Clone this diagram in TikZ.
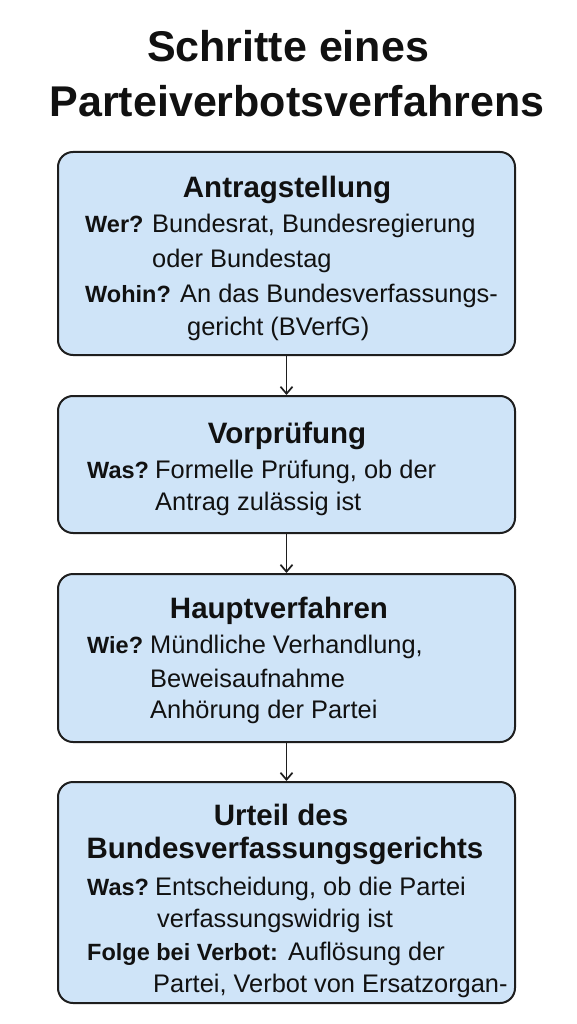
\documentclass[tikz,border=0pt]{standalone}
\usepackage{fontspec}
\setmainfont{Liberation Sans}
\usetikzlibrary{arrows.meta}
\definecolor{boxfill}{RGB}{207,228,248}
\definecolor{boxline}{RGB}{30,30,30}
\definecolor{txt}{RGB}{17,17,17}
\tikzset{
  stepbox/.style={draw=boxline, line width=2pt, fill=boxfill, rounded corners=15pt, inner sep=0pt},
  arr/.style={draw=boxline, line width=1.7pt, -{Straight Barb[length=7pt,width=12pt,line width=1.7pt]}},
  ttl/.style={anchor=base, inner sep=0pt, text=txt, font=\fontsize{43}{50}\selectfont\bfseries},
  hd/.style={anchor=base, inner sep=0pt, text=txt, font=\fontsize{29.5}{34}\selectfont\bfseries},
  lbl/.style={anchor=base west, inner sep=0pt, text=txt, font=\fontsize{23.5}{28}\selectfont\bfseries},
  bd/.style={anchor=base west, inner sep=0pt, text=txt, font=\fontsize{25.4}{30}\selectfont},
}
\begin{document}
\begin{tikzpicture}[x=1pt,y=-1pt]
\useasboundingbox (0,0) rectangle (576,1024);
\fill[white] (0,0) rectangle (576,1024);

% title
\node[ttl] (t1) at (288,62) {Schritte eines};
\node[ttl] (t2) at (297,117) {Parteiverbotsverfahrens};

% boxes
\node[stepbox, minimum width=457pt, minimum height=203pt] (b1) at (286.5,253.5) {};
\node[stepbox, minimum width=457pt, minimum height=137pt] (b2) at (286.5,464.5) {};
\node[stepbox, minimum width=457pt, minimum height=168pt] (b3) at (286.5,658) {};
\node[stepbox, minimum width=457pt, minimum height=221pt] (b4) at (286.5,892.5) {};

% arrows
\draw[arr] (b1.south) -- (b2.north);
\draw[arr] (b2.south) -- (b3.north);
\draw[arr] (b3.south) -- (b4.north);

% box 1
\node[hd] (h1) at (287,198) {Antragstellung};
\node[lbl] (l1a) at (85,233) {Wer?};
\node[bd] (x1a) at (152,233) {Bundesrat, Bundesregierung};
\node[bd] (x1b) at (152,267) {oder Bundestag};
\node[lbl] (l1b) at (85,302) {Wohin?};
\node[bd] (x1c) at (180,302) {An das Bundesverfassungs-};
\node[bd] (x1d) at (187,335) {gericht (BVerfG)};

% box 2
\node[hd] (h2) at (287,443) {Vorprüfung};
\node[lbl] (l2a) at (87,478) {Was?};
\node[bd] (x2a) at (155,478) {Formelle Prüfung, ob der};
\node[bd] (x2b) at (155,510) {Antrag zulässig ist};

% box 3
\node[hd] (h3) at (279,618) {Hauptverfahren};
\node[lbl] (l3a) at (87,653) {Wie?};
\node[bd] (x3a) at (150,653) {Mündliche Verhandlung,};
\node[bd] (x3b) at (150,687) {Beweisaufnahme};
\node[bd] (x3c) at (150,718) {Anhörung der Partei};

% box 4
\node[hd] (h4a) at (281,825) {Urteil des};
\node[hd] (h4b) at (285,858) {Bundesverfassungsgerichts};
\node[lbl] (l4a) at (87,895) {Was?};
\node[bd] (x4a) at (155,895) {Entscheidung, ob die Partei};
\node[bd] (x4b) at (157,927) {verfassungswidrig ist};
\node[lbl] (l4b) at (87,960) {Folge bei Verbot:};
\node[bd] (x4c) at (288,960) {Auflösung der};
\node[bd] (x4d) at (153,992) {Partei, Verbot von Ersatzorgan-};
\end{tikzpicture}
\end{document}
